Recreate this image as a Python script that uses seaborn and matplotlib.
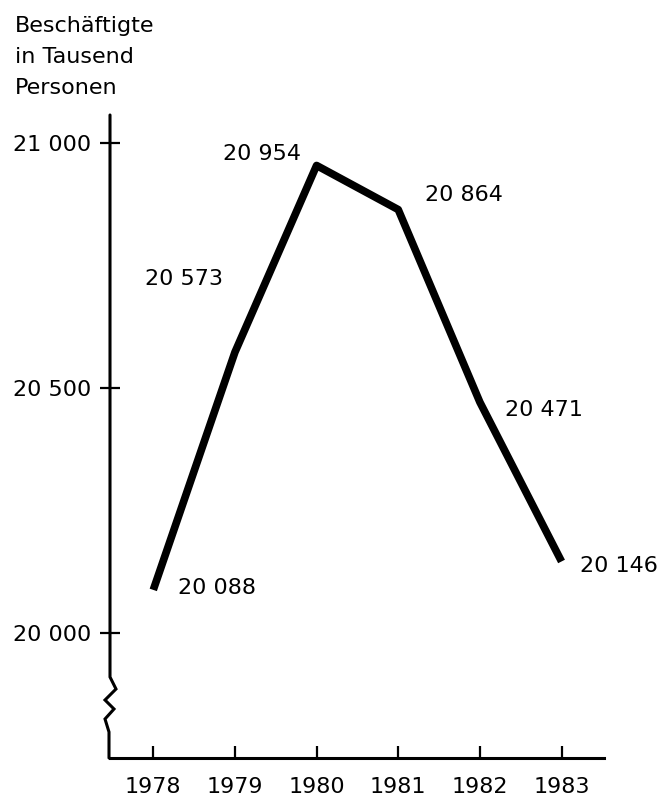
import numpy as np
import pandas as pd
import matplotlib
matplotlib.use('Agg')
import matplotlib.pyplot as plt
import seaborn as sns

# Beschäftigte in Tausend Personen, 1978-1983
years = [1978, 1979, 1980, 1981, 1982, 1983]
employed = [20088, 20573, 20954, 20864, 20471, 20146]
ytick_values = [20000, 20500, 21000]
title_lines = ['Beschäftigte', 'in Tausend', 'Personen']

# label offsets (pixels) from each point, style only
label_offsets = [(64, 2), (-51, 73), (-55, 11), (66, 15), (64, -8), (57, -5)]


def fmt(v):
    return f'{v:,}'.replace(',', ' ')


sns.set_style('white')
plt.rcParams['font.family'] = ['DejaVu Sans']
plt.rcParams['font.size'] = 16
plt.rcParams['text.color'] = 'black'
plt.rcParams['xtick.color'] = 'black'
plt.rcParams['ytick.color'] = 'black'
plt.rcParams['xtick.labelcolor'] = 'black'
plt.rcParams['ytick.labelcolor'] = 'black'

W, H = 661, 798
fig = plt.figure(figsize=(W / 100, H / 100), dpi=100)
ax_l, ax_r, ax_t, ax_b = 110, 604, 115, 758
ax = fig.add_axes([ax_l / W, 1 - ax_b / H, (ax_r - ax_l) / W, (ax_b - ax_t) / H])

df = pd.DataFrame({'year': years, 'value': employed})
sns.lineplot(data=df, x='year', y='value', ax=ax, color='black', lw=5.5,
             solid_joinstyle='round', solid_capstyle='butt')

ax.set_xlim(1977.47, 1983.52)
ax.set_ylim(19745, 21057)

ax.set_xticks(years)
ax.set_xticklabels([str(y) for y in years])
ax.set_yticks(ytick_values)
ax.set_yticklabels([fmt(v) for v in ytick_values])
ax.set_xlabel('')
ax.set_ylabel('')

ax.tick_params(axis='x', direction='in', length=9, width=1.6, pad=14,
               labelsize=16, color='black', labelcolor='black', bottom=True)
ax.tick_params(axis='y', direction='inout', length=15, width=1.6, pad=6,
               labelsize=16, color='black', labelcolor='black', left=True)

for s in ['top', 'right', 'left']:
    ax.spines[s].set_visible(False)
ax.spines['bottom'].set_linewidth(2.2)
ax.spines['bottom'].set_color('black')

# left axis with a zigzag break, drawn in axes fraction coordinates
aw, ah = ax_r - ax_l, ax_b - ax_t
brk = [(0, ax_t), (0, 677), (6, 689), (-5, 700), (4, 709), (-5, 719), (-1, 732), (-1, ax_b)]
bx = [p[0] / aw for p in brk]
by = [(ax_b - p[1]) / ah for p in brk]
ax.plot(bx, by, color='black', lw=2.2, transform=ax.transAxes, clip_on=False,
        solid_joinstyle='miter')

for x, v, off in zip(years, employed, label_offsets):
    ax.annotate(fmt(v), xy=(x, v), xytext=off, textcoords='offset pixels',
                ha='center', va='center', fontsize=16, color='black')

for i, line in enumerate(title_lines):
    fig.text(15 / W, 1 - (32 + i * 31) / H, line, ha='left', va='baseline',
             fontsize=16, color='black')

fig.savefig('out.png', dpi=100)
